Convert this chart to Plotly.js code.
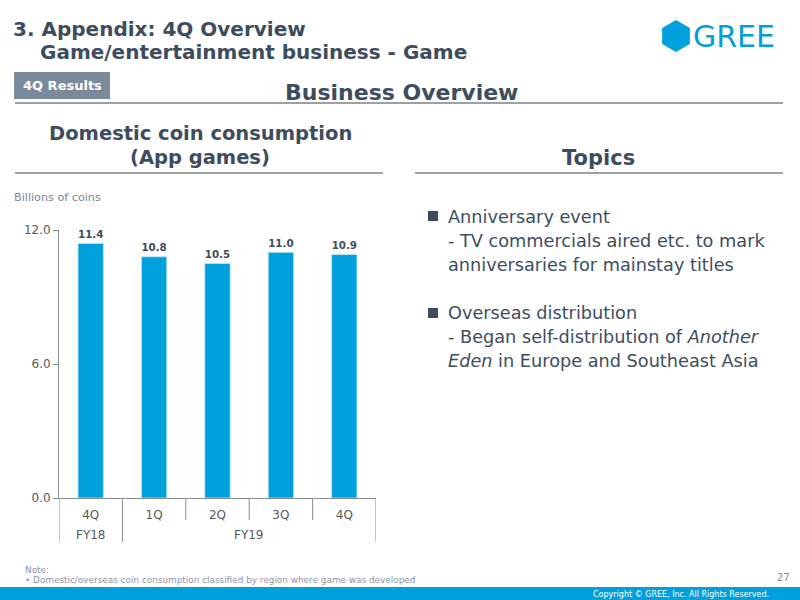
<!DOCTYPE html>
<html><head><meta charset="utf-8">
<script src="https://cdn.plot.ly/plotly-3.0.1.min.js"></script>
<style>html,body{margin:0;padding:0;background:#fff}#c{width:800px;height:600px}</style>
</head><body><div id="c"></div>
<script>
const fiscalYears = ["FY18","FY19","FY19","FY19","FY19"];
const quarters = ["4Q","1Q","2Q","3Q","4Q"];
const coinConsumption = [11.4, 10.8, 10.5, 11.0, 10.9];
const yTicks = [0, 6, 12];

const W = 800, H = 600;
const px = x => x / W, py = y => 1 - y / H;
const FONT = "DejaVu Sans, Verdana, sans-serif";
const DARK = "#3E4D5E", BLUE = "#00A0DC", AXIS = "#8C8C8C";

const xKeys = quarters.map((q, i) => fiscalYears[i] + " " + q);

const trace = {
  type: "bar",
  x: xKeys,
  y: coinConsumption,
  marker: {color: BLUE, line: {color: "#BFE6F5", width: 0.8}},
  width: 0.4,
  text: coinConsumption.map(v => v.toFixed(1)),
  texttemplate: "<b>%{text}</b>",
  textposition: "outside",
  textfont: {family: FONT, size: 13, color: DARK},
  cliponaxis: false,
  hoverinfo: "skip"
};

function ann(text, x, y, size, opts) {
  return Object.assign({text, x: px(x), y: py(y), xref: "paper", yref: "paper",
    showarrow: false, font: {family: FONT, size, color: DARK}, xanchor: "left", yanchor: "middle"}, opts || {});
}

const annotations = [
  ann("<b>3. Appendix: 4Q Overview</b>", 11, 29, 20),
  ann("<b>Game/entertainment business - Game</b>", 38, 52, 20),
  ann("<b>4Q Results</b>", 62, 86, 13, {xanchor: "center", font: {family: FONT, size: 13, color: "#fff"}}),
  ann("<b>Business Overview</b>", 401, 92, 22, {xanchor: "center"}),
  ann("<b>Domestic coin consumption</b>", 200, 133, 19.5, {xanchor: "center"}),
  ann("<b>(App games)</b>", 200, 158, 19.5, {xanchor: "center"}),
  ann("<b>Topics</b>", 598, 158, 21, {xanchor: "center"}),
  ann("Billions of coins", 12, 197, 11.2, {font: {family: FONT, size: 11.2, color: "#7A8795"}}),
  ann("Anniversary event", 446, 217, 17.7),
  ann("- TV commercials aired etc. to mark", 446, 241, 17.7),
  ann("anniversaries for mainstay titles", 446, 265, 17.7),
  ann("Overseas distribution", 446, 313, 17.7),
  ann("- Began self-distribution of <i>Another</i>", 446, 337, 17.7),
  ann("<i>Eden</i> in Europe and Southeast Asia", 446, 361, 17.7),
  ann("GREE", 691, 36, 30, {font: {family: FONT, size: 30, color: BLUE}}),
  ann("Note:", 23, 570, 8.9, {font: {family: FONT, size: 8.9, color: "#8A96A3"}}),
  ann("• Domestic/overseas coin consumption classified by region where game was developed", 23, 580, 8.9, {font: {family: FONT, size: 8.9, color: "#8A96A3"}}),
  ann("27", 792, 577, 10, {xanchor: "right", font: {family: FONT, size: 10, color: "#8A8A8A"}}),
  ann("Copyright © GREE, Inc. All Rights Reserved.", 771, 594, 8, {xanchor: "right", font: {family: FONT, size: 8, color: "#fff"}}),
  {text: fiscalYears[0], x: 0, xref: "x", y: py(535), yref: "paper", showarrow: false,
   font: {family: FONT, size: 12, color: "#595959"}, yanchor: "middle"},
  {text: fiscalYears[1], x: 2.5, xref: "x", y: py(535), yref: "paper", showarrow: false,
   font: {family: FONT, size: 12, color: "#595959"}, yanchor: "middle"}
];

function hex(cx, cy, r) {
  let d = "";
  for (let i = 0; i < 6; i++) {
    const a = Math.PI / 180 * (60 * i - 90);
    const x = px(cx + r * Math.cos(a)), y = py(cy + r * Math.sin(a));
    d += (i ? " L " : "M ") + x + " " + y;
  }
  return d + " Z";
}

const shapes = [
  {type: "rect", xref: "paper", yref: "paper", x0: px(14), x1: px(110), y0: py(99), y1: py(72), fillcolor: "#7B8A9A", line: {width: 0}},
  {type: "line", xref: "paper", yref: "paper", x0: px(15), x1: px(783), y0: py(103), y1: py(103), line: {color: "#404040", width: 1}},
  {type: "line", xref: "paper", yref: "paper", x0: px(15), x1: px(383), y0: py(173), y1: py(173), line: {color: "#404040", width: 1}},
  {type: "line", xref: "paper", yref: "paper", x0: px(415), x1: px(783), y0: py(173), y1: py(173), line: {color: "#404040", width: 1}},
  {type: "rect", xref: "paper", yref: "paper", x0: px(428), x1: px(438), y0: py(221), y1: py(211), fillcolor: DARK, line: {width: 0}},
  {type: "rect", xref: "paper", yref: "paper", x0: px(428), x1: px(438), y0: py(318), y1: py(308), fillcolor: DARK, line: {width: 0}},
  {type: "path", xref: "paper", yref: "paper", path: hex(676, 36, 16), fillcolor: BLUE, line: {width: 0}},
  {type: "rect", xref: "paper", yref: "paper", x0: 0, x1: 1, y0: 0, y1: py(587), fillcolor: BLUE, line: {width: 0}}
];
for (let i = 0; i <= quarters.length; i++) {
  const isGroupEdge = i === 0 || i === quarters.length || fiscalYears[i] !== fiscalYears[i - 1];
  shapes.push({type: "line", xref: "x", yref: "paper", x0: i - 0.5, x1: i - 0.5,
    y0: py(498), y1: py(isGroupEdge ? 542 : 520), line: {color: AXIS, width: 1}});
}

const layout = {
  width: W, height: H,
  margin: {l: 0, r: 0, t: 0, b: 0},
  paper_bgcolor: "#fff", plot_bgcolor: "#fff",
  showlegend: false,
  font: {family: FONT, color: "#595959"},
  xaxis: {
    type: "category",
    domain: [px(59), px(376)],
    range: [-0.5, quarters.length - 0.5],
    tickvals: xKeys, ticktext: quarters,
    showline: true, linecolor: AXIS, linewidth: 1,
    ticks: "", ticklabelstandoff: 6,
    tickfont: {family: FONT, size: 12, color: "#595959"},
    showgrid: false, zeroline: false, fixedrange: true
  },
  yaxis: {
    domain: [py(498), py(230)],
    range: [0, 12],
    tickvals: yTicks, tickformat: ".1f",
    showline: true, linecolor: AXIS, linewidth: 1,
    ticks: "outside", ticklen: 5, tickcolor: AXIS,
    tickfont: {family: FONT, size: 12, color: "#595959"},
    showgrid: false, zeroline: false, fixedrange: true
  },
  annotations, shapes
};

Plotly.newPlot("c", [trace], layout, {displayModeBar: false, staticPlot: true});
</script>
</body></html>
